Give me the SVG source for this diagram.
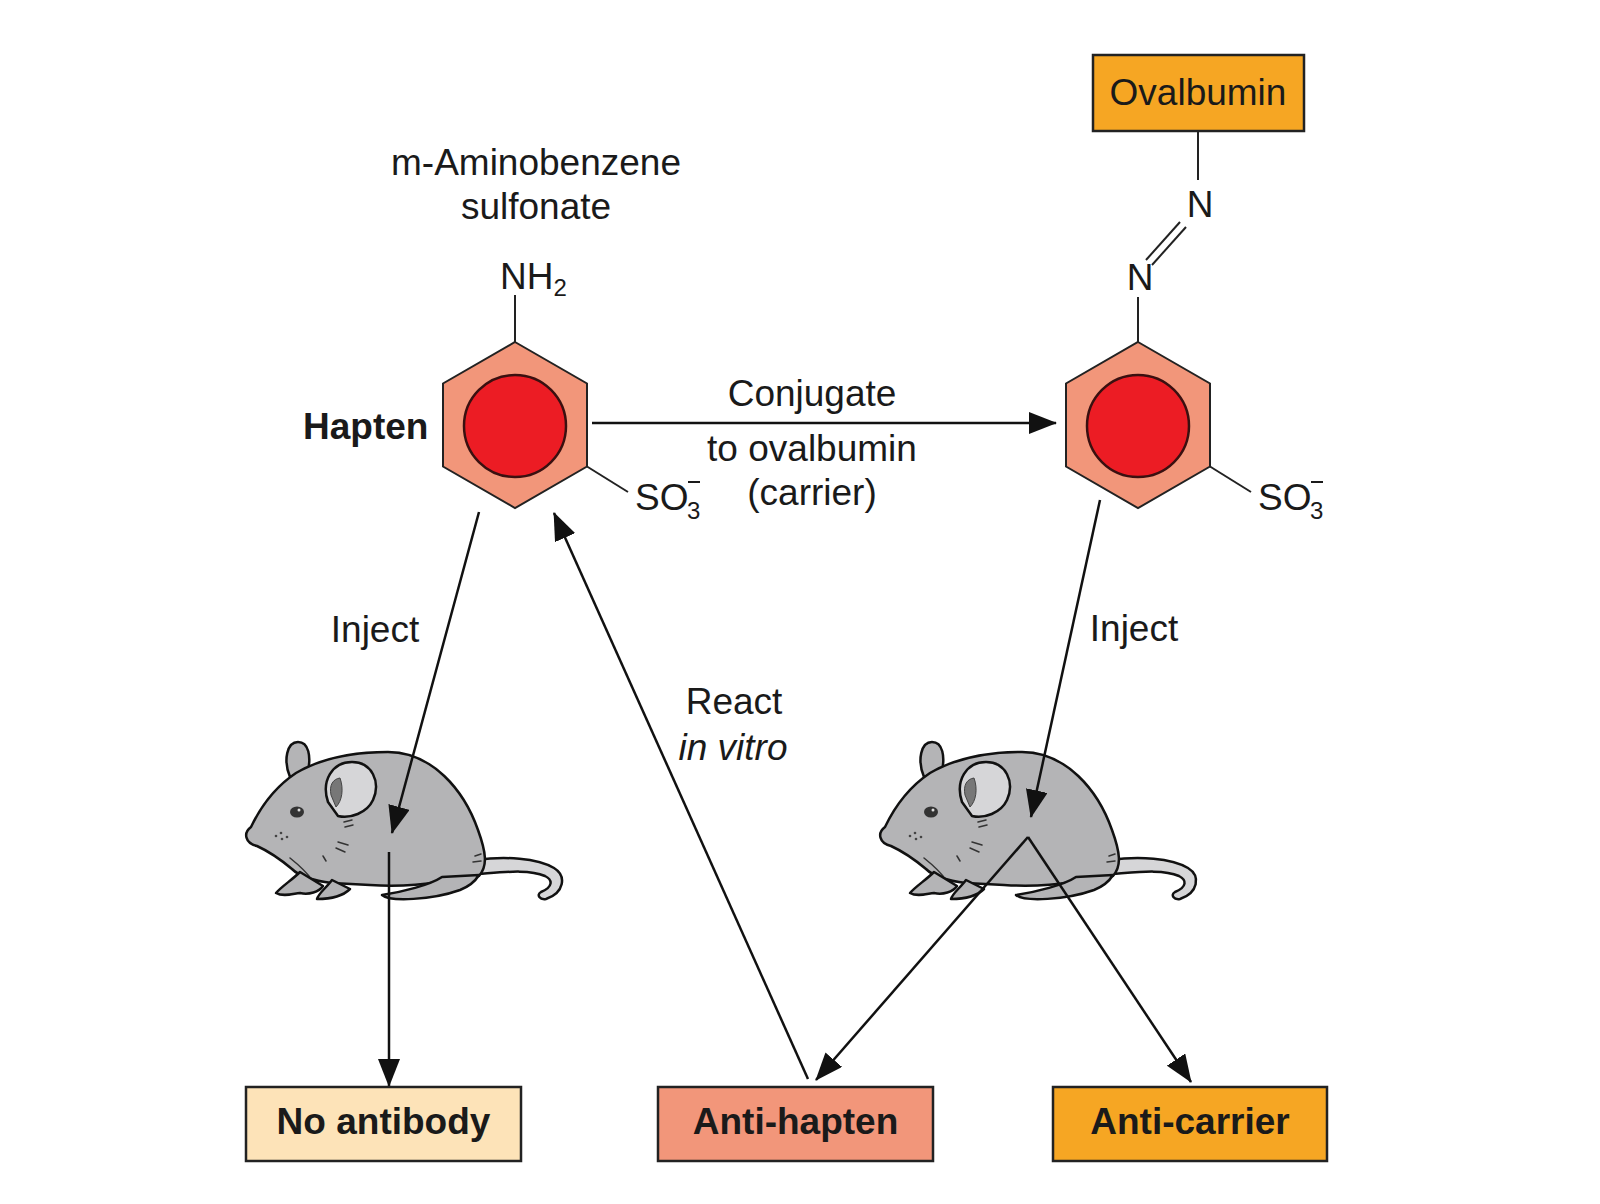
<svg xmlns="http://www.w3.org/2000/svg" xmlns:xlink="http://www.w3.org/1999/xlink" width="1600" height="1204" viewBox="0 0 1600 1204">
<style>
  .t { font-family: "Liberation Sans", Arial, Helvetica, sans-serif; font-size: 37px; fill: #1a1a1a; }
  .b { font-weight: bold; }
  .i { font-style: italic; }
  .sub { font-size: 24px; }
  .conn { stroke: #111; stroke-width: 2.5; fill: none; }
  .bond { stroke: #222; stroke-width: 2; fill: none; }
  .hex { fill: #F2967A; stroke: #222; stroke-width: 2; }
  .ring { fill: #EC1C24; stroke: #3a1010; stroke-width: 2.5; }
  .box { stroke: #222; stroke-width: 2.5; }
  .fur { fill: #b4b4b6; stroke: #111; stroke-width: 2.5; stroke-linejoin: round; }
  .light { fill: #d6d6d8; stroke: #111; stroke-width: 2.5; stroke-linejoin: round; }
  .det { stroke: #333; stroke-width: 1.5; fill: none; stroke-linecap: round; }
</style>
<defs>
  <marker id="ah" viewBox="0 0 28 22" refX="27" refY="11" markerWidth="28" markerHeight="22" markerUnits="userSpaceOnUse" orient="auto">
    <path d="M0,0 L28,11 L0,22 Z" fill="#111"/>
  </marker>
  <g id="mouse">
    <path class="light" d="M476,860 C505,856 537,858 554,868 C567,876 564,893 546,899 C540,900 536,895 541,892 C553,887 553,880 545,876 C529,869 505,872 478,874 Z"/>
    <path class="fur" d="M290,777 C283,760 287,742 298,742 C309,742 311,757 308,771 Z"/>
    <path class="fur" d="M251,827 C262,804 278,785 296,773 C320,759 352,752 388,752 C432,752 464,790 478,830 C486,852 488,866 479,876 L440,882 C420,885 400,887 370,885 L332,883 C315,881 300,877 292,869 C280,859 268,851 257,846 C245,843 243,833 251,827 Z"/>
    <path class="light" d="M328,802 C321,781 332,762 352,762 C372,762 381,782 373,800 C367,813 350,819 338,816 Z"/>
    <path d="M331,795 C329,785 333,779 340,778 C344,789 342,801 336,807 Z" fill="#777" stroke="#444" stroke-width="1"/>
    <ellipse cx="297" cy="812" rx="7" ry="5.5" fill="#333"/>
    <circle cx="299" cy="810" r="1.5" fill="#ddd"/>
    <circle cx="276" cy="836" r="1.3" fill="#444"/>
    <circle cx="282" cy="839" r="1.3" fill="#444"/>
    <circle cx="281" cy="833" r="1.3" fill="#444"/>
    <circle cx="287" cy="837" r="1.3" fill="#444"/>
    <path class="det" d="M344,822 L352,820 M345,827 L353,825 M338,842 L348,845 M336,848 L345,852 M323,856 L326,861 M475,856 L481,854 M473,862 L481,861"/>
    <path class="det" d="M290,858 C300,866 308,874 312,880"/>
    <path class="fur" d="M300,872 C292,880 282,886 276,893 C283,897 292,894 300,893 C309,895 319,892 323,886 Z"/>
    <path class="fur" d="M332,880 C326,888 318,894 317,899 C330,899 343,896 350,889 Z"/>
    <path class="fur" d="M442,877 C430,885 402,892 382,895 C390,902 432,900 460,890 C470,886 476,880 479,875 Z"/>
  </g>
</defs>
<rect width="1600" height="1204" fill="#ffffff"/>

<g id="hapten">
  <text class="t b" x="303" y="439">Hapten</text>
  <text class="t" x="536" y="175" text-anchor="middle">m-Aminobenzene</text>
  <text class="t" x="536" y="219" text-anchor="middle">sulfonate</text>
  <line class="bond" x1="515" y1="295" x2="515" y2="342"/>
  <text class="t" x="500" y="289">NH<tspan class="sub" dy="7">2</tspan></text>
  <polygon class="hex" points="515,342 587,383.5 587,466.5 515,508 443,466.5 443,383.5"/>
  <circle class="ring" cx="515" cy="426" r="51"/>
  <line class="bond" x1="587" y1="466.5" x2="628" y2="492"/>
  <text class="t" x="635" y="510">SO</text>
  <text class="t sub" x="687" y="519">3</text>
  <line x1="688" y1="482" x2="700" y2="482" stroke="#1a1a1a" stroke-width="2"/>
</g>

<g id="conjugate-label">
  <text class="t" x="812" y="406" text-anchor="middle">Conjugate</text>
  <text class="t" x="812" y="461" text-anchor="middle">to ovalbumin</text>
  <text class="t" x="812" y="505" text-anchor="middle">(carrier)</text>
</g>

<g id="conjugate">
  <rect class="box" x="1093" y="55" width="211" height="76" fill="#F6A623"/>
  <text class="t" x="1198" y="105" text-anchor="middle">Ovalbumin</text>
  <line class="bond" x1="1198" y1="131" x2="1198" y2="180"/>
  <text class="t" x="1200" y="217" text-anchor="middle">N</text>
  <line class="bond" x1="1146" y1="260" x2="1180" y2="222"/>
  <line class="bond" x1="1152" y1="265" x2="1186" y2="227"/>
  <text class="t" x="1140" y="290" text-anchor="middle">N</text>
  <line class="bond" x1="1138" y1="297" x2="1138" y2="342"/>
  <polygon class="hex" points="1138,342 1210,383.5 1210,466.5 1138,508 1066,466.5 1066,383.5"/>
  <circle class="ring" cx="1138" cy="426" r="51"/>
  <line class="bond" x1="1210" y1="466.5" x2="1251" y2="492"/>
  <text class="t" x="1258" y="510">SO</text>
  <text class="t sub" x="1310" y="519">3</text>
  <line x1="1311" y1="482" x2="1323" y2="482" stroke="#1a1a1a" stroke-width="2"/>
</g>

<g id="labels">
  <text class="t" x="375" y="642" text-anchor="middle">Inject</text>
  <text class="t" x="1134" y="641" text-anchor="middle">Inject</text>
  <text class="t" x="734" y="714" text-anchor="middle">React</text>
  <text class="t i" x="733" y="760" text-anchor="middle">in vitro</text>
</g>

<g id="mouse-left">
  <use xlink:href="#mouse" href="#mouse"/>
</g>
<g id="mouse-right">
  <use xlink:href="#mouse" href="#mouse" x="634"/>
</g>

<g id="connectors">
  <line class="conn" x1="592" y1="423" x2="1056" y2="423" marker-end="url(#ah)"/>
  <line class="conn" x1="479" y1="512" x2="392" y2="833" marker-end="url(#ah)"/>
  <line class="conn" x1="389" y1="852" x2="389" y2="1086" marker-end="url(#ah)"/>
  <line class="conn" x1="808" y1="1079" x2="554" y2="513" marker-end="url(#ah)"/>
  <line class="conn" x1="1100" y1="500" x2="1031" y2="817" marker-end="url(#ah)"/>
  <line class="conn" x1="1028" y1="837" x2="816" y2="1080" marker-end="url(#ah)"/>
  <line class="conn" x1="1028" y1="837" x2="1191" y2="1082" marker-end="url(#ah)"/>
</g>

<g id="no-antibody">
  <rect class="box" x="246" y="1087" width="275" height="74" fill="#FDE3B8"/>
  <text class="t b" x="383.5" y="1134" text-anchor="middle">No antibody</text>
</g>
<g id="anti-hapten">
  <rect class="box" x="658" y="1087" width="275" height="74" fill="#F2967A"/>
  <text class="t b" x="795.5" y="1134" text-anchor="middle">Anti-hapten</text>
</g>
<g id="anti-carrier">
  <rect class="box" x="1053" y="1087" width="274" height="74" fill="#F6A623"/>
  <text class="t b" x="1190" y="1134" text-anchor="middle">Anti-carrier</text>
</g>
</svg>
